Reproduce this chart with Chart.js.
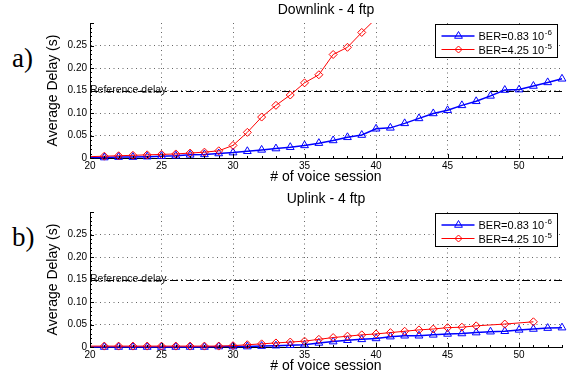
<!DOCTYPE html>
<html>
<head>
<meta charset="utf-8">
<script src="https://cdn.jsdelivr.net/npm/chart.js@4/dist/chart.umd.min.js"></script>
<style>
  body { margin: 0; background: #fff; width: 579px; height: 379px; position: relative; overflow: hidden; }
  .panel { position: absolute; left: 0; width: 579px; height: 190px; }
  .tag { position: absolute; left: 12px; font: 27px "Liberation Serif", "Times New Roman", serif; line-height: 30px; color: #000; }
</style>
</head>
<body>
<div class="tag" style="top:43px">a)</div>
<div class="panel" style="top:0"><canvas id="downChart"></canvas></div>
<div class="tag" style="top:222px">b)</div>
<div class="panel" style="top:189px"><canvas id="upChart"></canvas></div>

<script>
const sansFont = '"Liberation Sans", Arial, Helvetica, sans-serif';

const xTicks = [20, 25, 30, 35, 40, 45, 50];
const yTicks = [0, 0.05, 0.1, 0.15, 0.2, 0.25];
const referenceDelay = 0.15;
const seriesNames = ["BER=0.83 10", "BER=4.25 10"];
const seriesExponents = ["-6", "-5"];

// Downlink - 4 ftp
const downBlueSessions = [20, 21, 22, 23, 24, 25, 26, 27, 28, 29, 30, 31, 32, 33, 34, 35, 36,
    37, 38, 39, 40, 41, 42, 43, 44, 45, 46, 47, 48, 49, 50, 51, 52, 53];
const downBlueDelay = [0.001, 0.001, 0.002, 0.002, 0.003, 0.004, 0.005, 0.007, 0.008, 0.010, 0.012,
    0.015, 0.018, 0.021, 0.024, 0.028, 0.033, 0.039, 0.046, 0.051, 0.065, 0.067, 0.077, 0.088,
    0.099, 0.106, 0.117, 0.126, 0.138, 0.151, 0.152, 0.160, 0.168, 0.176];
const downRedSessions = [20, 21, 22, 23, 24, 25, 26, 27, 28, 29, 30, 31, 32, 33, 34, 35, 36, 37, 38, 39, 40];
const downRedDelay = [0.003, 0.004, 0.005, 0.006, 0.007, 0.008, 0.009, 0.011, 0.013, 0.016, 0.028,
    0.057, 0.091, 0.117, 0.140, 0.167, 0.185, 0.230, 0.246, 0.279, 0.310];

// Uplink - 4 ftp
const upBlueSessions = [20, 21, 22, 23, 24, 25, 26, 27, 28, 29, 30, 31, 32, 33, 34, 35, 36,
    37, 38, 39, 40, 41, 42, 43, 44, 45, 46, 47, 48, 49, 50, 51, 52, 53];
const upBlueDelay = [0, 0, 0, 0, 0, 0, 0, 0, 0, 0.001, 0.001, 0.001, 0.002, 0.003, 0.004, 0.005,
    0.009, 0.012, 0.015, 0.017, 0.019, 0.023, 0.025, 0.025, 0.027, 0.029, 0.030, 0.032, 0.034,
    0.035, 0.038, 0.040, 0.042, 0.043];
const upRedSessions = [20, 21, 22, 23, 24, 25, 26, 27, 28, 29, 30, 31, 32, 33, 34, 35, 36, 37,
    38, 39, 40, 41, 42, 43, 44, 45, 46, 47, 49, 51];
const upRedDelay = [0.002, 0.002, 0.002, 0.002, 0.002, 0.002, 0.002, 0.002, 0.002, 0.002, 0.003,
    0.005, 0.007, 0.009, 0.011, 0.013, 0.017, 0.021, 0.024, 0.027, 0.029, 0.032, 0.035, 0.038,
    0.040, 0.043, 0.044, 0.047, 0.051, 0.056];

function toPoints(xs, ys) {
    return xs.map((x, i) => ({ x: x, y: ys[i] }));
}

// titles, minor ticks, reference line and the BER legend
const decorPlugin = {
    id: "decor",
    beforeDatasetsDraw(chart) {
        const ctx = chart.ctx;
        const area = chart.chartArea;
        const py = Math.round(chart.scales.y.getPixelForValue(referenceDelay)) + 0.5;
        ctx.save();
        ctx.strokeStyle = "#000";
        ctx.lineWidth = 1;
        ctx.setLineDash([8, 3, 2, 3]);
        ctx.beginPath();
        ctx.moveTo(area.left, py);
        ctx.lineTo(area.right, py);
        ctx.stroke();
        ctx.setLineDash([]);
        ctx.fillStyle = "#111";
        ctx.font = "10.5px " + sansFont;
        ctx.textBaseline = "middle";
        ctx.fillText("Reference delay", area.left, py - 1);
        ctx.restore();
    },
    afterDraw(chart, args, opts) {
        const ctx = chart.ctx;
        const area = chart.chartArea;
        const xs = chart.scales.x, ys = chart.scales.y;
        ctx.save();

        // title
        ctx.fillStyle = "#000";
        ctx.font = "14px " + sansFont;
        ctx.textAlign = "center";
        ctx.textBaseline = "middle";
        ctx.fillText(opts.title, (area.left + area.right) / 2, 10);

        // minor / major ticks pointing inwards
        ctx.strokeStyle = "#000";
        ctx.lineWidth = 1;
        ctx.beginPath();
        for (let i = 0; i <= 30; i++) {
            const py = Math.round(ys.getPixelForValue(i / 100)) + 0.5;
            const len = i % 5 === 0 ? 4 : 2;
            ctx.moveTo(area.left, py);
            ctx.lineTo(area.left + len, py);
        }
        for (let v = xs.min; v <= xs.max; v++) {
            const px = Math.round(xs.getPixelForValue(v)) + 0.5;
            const len = v % 5 === 0 ? 4 : 2;
            ctx.moveTo(px, area.bottom);
            ctx.lineTo(px, area.bottom - len);
        }
        ctx.stroke();

        // legend
        const w = 122, h = 33;
        const x0 = Math.round(area.right - w - 5) + 0.5;
        const y0 = Math.round(area.top + 1) + 0.5;
        ctx.fillStyle = "#fff";
        ctx.fillRect(x0, y0, w, h);
        ctx.strokeStyle = "#000";
        ctx.strokeRect(x0, y0, w, h);
        ctx.textAlign = "left";
        chart.data.datasets.forEach((ds, i) => {
            const rowY = y0 + 11.5 + i * 13.5;
            ctx.strokeStyle = ds.borderColor;
            ctx.lineWidth = ds.borderWidth;
            ctx.beginPath();
            ctx.moveTo(x0 + 6, rowY);
            ctx.lineTo(x0 + 39, rowY);
            ctx.stroke();
            ctx.lineWidth = 1;
            ctx.fillStyle = "rgba(0,0,0,0)";
            Chart.helpers.drawPoint(ctx, {
                pointStyle: ds.pointStyle, radius: ds.legendRadius, rotation: 0, borderWidth: 1
            }, x0 + 23, rowY);
            ctx.fillStyle = "#000";
            ctx.font = "11px " + sansFont;
            ctx.fillText(ds.label, x0 + 43, rowY + 1);
            const tw = ctx.measureText(ds.label).width;
            ctx.font = "8px " + sansFont;
            ctx.fillText(ds.exponent, x0 + 43 + tw + 0.5, rowY - 3);
        });
        ctx.restore();
    }
};

function makeChart(canvasId, title, blueX, blueY, redX, redY) {
    const ctx = document.getElementById(canvasId).getContext("2d");
    const hideFirst = (r) => (c) => (c.raw && c.raw.x === xTicks[0] ? 0 : r);

    return new Chart(ctx, {
        type: "line",
        data: {
            datasets: [{
                label: seriesNames[0],
                exponent: seriesExponents[0],
                data: toPoints(blueX, blueY),
                borderColor: "#0000ff",
                borderWidth: 1.5,
                pointStyle: "triangle",
                pointRadius: hideFirst(4.5),
                legendRadius: 4.5,
                pointBorderWidth: 1,
                pointBackgroundColor: "rgba(0,0,0,0)",
                tension: 0,
                order: 1,
                clip: { left: 8, right: 8, top: 0, bottom: 8 }
            }, {
                label: seriesNames[1],
                exponent: seriesExponents[1],
                data: toPoints(redX, redY),
                borderColor: "#ff0000",
                borderWidth: 1,
                pointStyle: "rectRot",
                pointRadius: hideFirst(4),
                legendRadius: 3.5,
                pointBorderWidth: 1,
                pointBackgroundColor: "rgba(0,0,0,0)",
                tension: 0,
                order: 0,
                clip: { left: 8, right: 8, top: 0, bottom: 8 }
            }]
        },
        options: {
            responsive: true,
            maintainAspectRatio: false,
            animation: false,
            layout: { padding: { left: 0, right: 17, top: 23, bottom: 0 } },
            plugins: {
                legend: { display: false },
                tooltip: { enabled: false },
                decor: { title: title }
            },
            scales: {
                x: {
                    type: "linear",
                    min: 20,
                    max: 53,
                    afterBuildTicks: (s) => { s.ticks = xTicks.map(v => ({ value: v })); },
                    afterFit: (s) => { s.height = 32; },
                    ticks: { color: "#000", font: { family: sansFont, size: 10 }, padding: 2, maxRotation: 0 },
                    grid: {
                        drawTicks: false,
                        color: (c) => (c.tick && c.tick.value === xTicks[0] ? "rgba(0,0,0,0)" : "#666")
                    },
                    border: { color: "#000", width: 1, dash: [1, 3.5] },
                    title: {
                        display: true,
                        text: "# of voice session",
                        color: "#000",
                        font: { family: sansFont, size: 14 },
                        padding: { top: 0, bottom: 4 }
                    }
                },
                y: {
                    min: 0,
                    max: 0.3,
                    afterBuildTicks: (s) => { s.ticks = yTicks.map(v => ({ value: v })); },
                    afterFit: (s) => { s.width = 90; },
                    ticks: { color: "#000", font: { family: sansFont, size: 10 }, padding: 3 },
                    grid: {
                        drawTicks: false,
                        color: (c) => (c.tick && c.tick.value === 0 ? "rgba(0,0,0,0)" : "#666")
                    },
                    border: { color: "#000", width: 1, dash: [1, 3.5] },
                    title: {
                        display: true,
                        text: "Average Delay (s)",
                        color: "#000",
                        font: { family: sansFont, size: 14 },
                        padding: { top: 45, bottom: 0 }
                    }
                }
            }
        },
        plugins: [decorPlugin]
    });
}

makeChart("downChart", "Downlink - 4 ftp", downBlueSessions, downBlueDelay, downRedSessions, downRedDelay);
makeChart("upChart", "Uplink - 4 ftp", upBlueSessions, upBlueDelay, upRedSessions, upRedDelay);
</script>
</body>
</html>
